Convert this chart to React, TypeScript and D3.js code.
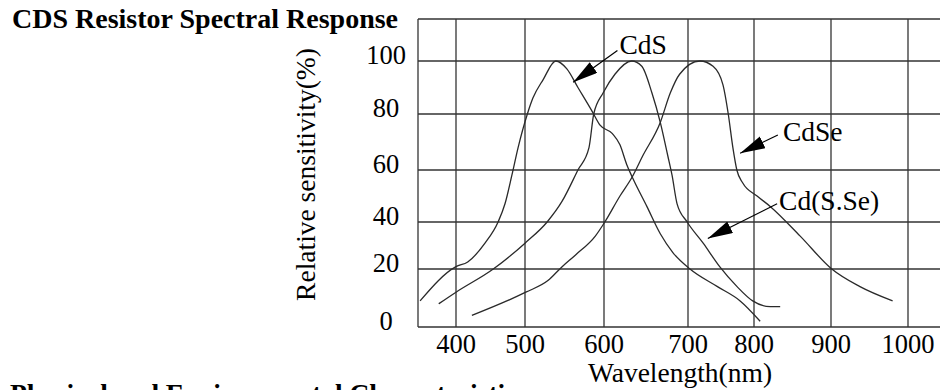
import * as d3 from "d3"

// grid ticks
const wavelengthTicks = [400, 500, 600, 700, 800, 900, 1000]
const sensitivityTicks = [0, 20, 40, 60, 80, 100]

// curves: [wavelength nm, relative sensitivity %]
const cdsCurve: [number, number][] = [
  [348, 9], [400, 21], [417, 23], [442, 31], [461, 40], [471, 47], [481, 58],
  [490, 68], [503, 80], [510, 86], [523, 93], [539, 100], [553, 97], [567, 90],
  [585, 81], [595, 76], [610, 73], [619, 69], [627, 62], [634, 57], [651, 46],
  [667, 35], [682, 27], [703, 20], [744, 14], [779, 9], [808, 2],
]
const cdsseCurve: [number, number][] = [
  [375, 8], [400, 12], [454, 20], [500, 31], [528, 40], [547, 48], [567, 60],
  [581, 68], [587, 80], [599, 88], [613, 95], [633, 100], [645, 98], [657, 88],
  [667, 77], [676, 65], [681, 58], [687, 47], [699, 40], [723, 31], [748, 21],
  [774, 14], [798, 9], [821, 7], [834, 7],
]
const cdseCurve: [number, number][] = [
  [423, 4], [501, 12], [529, 16], [547, 21], [564, 26], [589, 34], [601, 40],
  [619, 50], [633, 57], [646, 65], [667, 77], [679, 88], [690, 95], [718, 100],
  [738, 98], [753, 91], [761, 80], [768, 68], [774, 60], [783, 55], [804, 50],
  [821, 46], [860, 34], [901, 20], [937, 14], [980, 9],
]

// callouts: label anchor, leader start, arrow tip (data units)
const callouts = [
  { name: "CdS", label: [616, 102.5], from: [616, 104], to: [561, 92] },
  { name: "CdSe", label: [835, 70.4], from: [831, 72.5], to: [779, 66] },
  { name: "Cd(S.Se)", label: [830, 44.6], from: [830, 47], to: [730, 33] },
]

const W = 940
const H = 390
const font = "'Liberation Serif', 'Times New Roman', serif"

export default function App() {
  // the scanned grid is not evenly spaced, so use piecewise scales
  let x = d3
    .scaleLinear()
    .domain([345, ...wavelengthTicks, 1050])
    .range([418, 456, 525, 604, 688, 754, 831, 908, 948])
  let y = d3
    .scaleLinear()
    .domain([...sensitivityTicks, 116])
    .range([327, 269, 222, 170, 114, 61, 19])

  let line = d3
    .line<[number, number]>()
    .x((d) => x(d[0]))
    .y((d) => y(d[1]))
    .curve(d3.curveMonotoneX)

  let [x0, x1] = [x(345), W]
  let [yBottom, yTop] = [y(0), y(116)]

  return (
    <svg
      width={W}
      height={H}
      style={{ position: "absolute", left: 0, top: 0, background: "#fff" }}
      fontFamily={font}
    >
      <defs>
        <marker
          id="head"
          markerUnits="userSpaceOnUse"
          markerWidth={26}
          markerHeight={14}
          refX={25}
          refY={6.5}
          orient="auto"
        >
          <path d="M0,0 L25,6.5 L0,13 Z" fill="#000" />
        </marker>
      </defs>

      {/* title + heading of the next section, cut off by the frame */}
      <text x={12} y={28} fontSize={28} fontWeight="bold" fill="#000">
        CDS Resistor Spectral Response
      </text>
      <text x={10} y={403} fontSize={27.5} fontWeight="bold" fill="#000">
        Physical and Environmental Characteristics
      </text>

      {/* grid */}
      <g stroke="#333" strokeWidth={1.3}>
        {wavelengthTicks.map((t) => (
          <line key={t} x1={x(t)} x2={x(t)} y1={yTop} y2={yBottom} />
        ))}
        {sensitivityTicks.map((t) => (
          <line key={t} x1={x0} x2={x1} y1={y(t)} y2={y(t)} />
        ))}
        <line x1={x0} x2={x0} y1={yTop} y2={yBottom} />
        <line x1={x0} x2={x1} y1={yTop} y2={yTop} />
      </g>

      {/* curves */}
      <g fill="none" stroke="#2a2a2a" strokeWidth={1.3}>
        {[cdsCurve, cdsseCurve, cdseCurve].map((c, i) => (
          <path key={i} d={line(c) ?? ""} />
        ))}
      </g>

      {/* tick labels */}
      <g fontSize={26.5} fill="#000">
        {wavelengthTicks.map((t) => (
          <text key={t} x={x(t)} y={353} textAnchor="middle">
            {t}
          </text>
        ))}
        {sensitivityTicks.map((t) => (
          <text key={t} x={386} y={y(t) + 3} textAnchor="middle">
            {t}
          </text>
        ))}
      </g>

      {/* axis titles */}
      <text x={680} y={382} fontSize={27.5} textAnchor="middle" fill="#000">
        Wavelength(nm)
      </text>
      <text
        transform="translate(315,174.5) rotate(-90)"
        fontSize={27.5}
        textAnchor="middle"
        fill="#000"
      >
        Relative sensitivity(%)
      </text>

      {/* callouts */}
      {callouts.map((c) => (
        <g key={c.name}>
          <line
            x1={x(c.from[0])}
            y1={y(c.from[1])}
            x2={x(c.to[0])}
            y2={y(c.to[1])}
            stroke="#000"
            strokeWidth={1.2}
            markerEnd="url(#head)"
          />
          <text
            x={x(c.label[0]) + 2}
            y={y(c.label[1])}
            fontSize={27.5}
            fill="#000"
          >
            {c.name}
          </text>
        </g>
      ))}
    </svg>
  )
}
